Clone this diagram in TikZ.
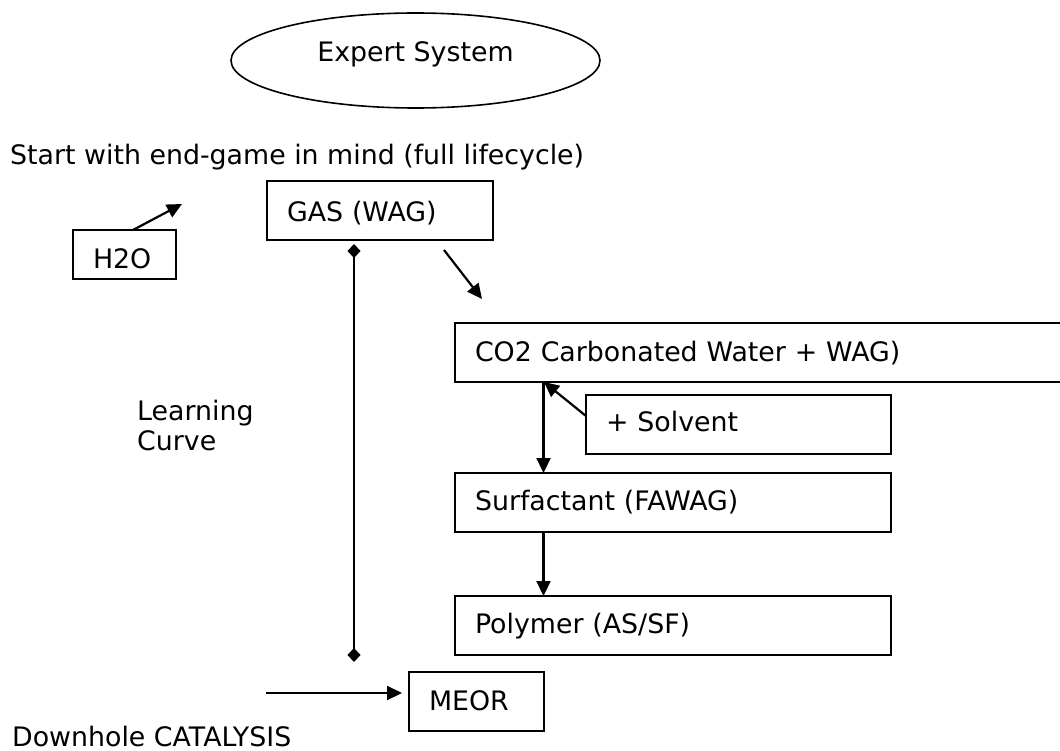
\documentclass[tikz,border=0pt]{standalone}
\usepackage{fontspec}
\setmainfont{DejaVu Sans}
\usetikzlibrary{arrows.meta,shapes.geometric}
\tikzset{
  every node/.style={font=\fontsize{26.8}{30}\selectfont},
  box/.style={draw, line width=1.7pt, anchor=north west, inner xsep=20pt, inner ysep=0pt, outer sep=0pt,
    align=left, minimum height=59pt, text height=20pt, text depth=4pt},
  conn/.style={line width=2.2pt, -{Triangle[length=15pt,width=14pt]}},
  span/.style={line width=2.2pt, {Diamond[length=14pt,width=13pt]}-{Diamond[length=14pt,width=13pt]}},
  plain/.style={inner sep=0pt}
}
\begin{document}
\begin{tikzpicture}[x=1pt,y=-1pt]
\clip (0,0) rectangle (1060,751);
\node[draw, ellipse, line width=1.6pt, minimum width=369pt, minimum height=95pt, inner sep=0pt,
  text height=14pt, text depth=11pt] (es) at (415.5,60.5) {Expert System};
\node[plain, anchor=base west] (start) at (10,165) {Start with end-game in mind (full lifecycle)};
\node[box, text width=186pt, text height=25pt, text depth=2pt] (gas) at (267,181) {GAS (WAG)};
\node[box, text width=63pt, minimum height=49pt, text height=29pt, text depth=1.4pt] (h2o) at (73,230) {H2O};
\node[box, text width=580pt, text height=20pt, text depth=3pt] (co2) at (455,323) {CO2 Carbonated Water + WAG)};
\node[box, text width=265pt, text height=19pt, text depth=5pt] (solv) at (586,395) {+ Solvent};
\node[box, text width=396pt] (surf) at (455,473) {Surfactant (FAWAG)};
\node[box, text width=396pt, text height=19pt, text depth=4pt] (poly) at (455,596) {Polymer (AS/SF)};
\node[box, text width=95pt, text height=20pt, text depth=3pt] (meor) at (409,672) {MEOR};
\node[plain, anchor=base west, align=left] (learn) at (137,450) {Learning\\Curve};
\node[plain, anchor=base west] (dh) at (12,746) {Downhole CATALYSIS};
\coordinate (h2otip) at (182,204);
\coordinate (gasA) at (444,250);
\coordinate (gasB) at (482,299);
\coordinate (lcTop) at (354,244);
\coordinate (lcBot) at (354,662);
\draw[conn] ([xshift=8.5pt]h2o.north) -- (h2otip);
\draw[conn] (gasA) -- (gasB);
\draw[span] (lcTop) -- (lcBot);
\draw[conn] ([yshift=8.5pt]solv.west) -- ([xshift=89pt]co2.south west);
\draw[conn] ([xshift=88.5pt]co2.south west) -- ([xshift=88.5pt]surf.north west);
\draw[conn] ([xshift=88.5pt]surf.south west) -- ([xshift=88.5pt]poly.north west);
\draw[conn] ([xshift=-143pt,yshift=8.5pt]meor.west) -- ([xshift=-7pt,yshift=8.5pt]meor.west);
\end{tikzpicture}
\end{document}
